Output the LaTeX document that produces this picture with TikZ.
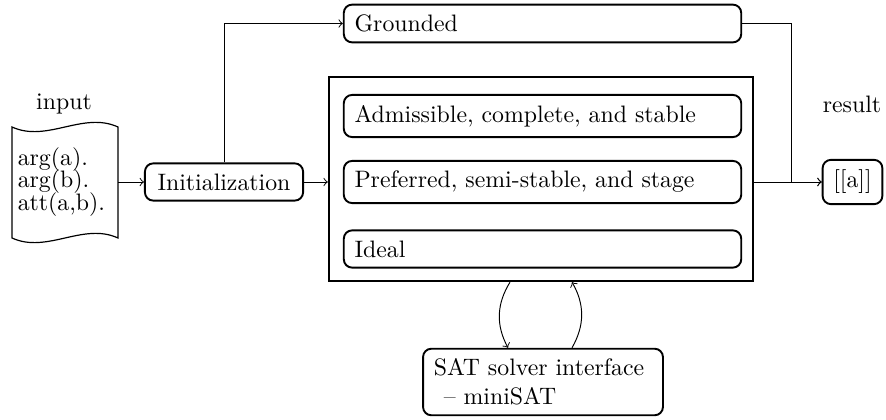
\documentclass[tikz,border=0pt]{standalone}
\usetikzlibrary{calc}
\begin{document}
\begin{tikzpicture}[x=0.4202pt,y=-0.4202pt,
  rbox/.style={draw,thick,rounded corners=3.5pt,inner xsep=4.5pt,inner ysep=4.3pt},
  wbox/.style={rbox,text width=158pt,align=left},
  conn/.style={->,line width=0.4pt},
  lbl/.style={inner sep=0pt}]
\useasboundingbox (0,0) rectangle (886,420);
% input document
\node[minimum width=44.5pt,minimum height=46pt,inner xsep=2.4pt,
      text width=39.7pt,align=left] (doc) at (65,182)
  {arg(a).\\[-2.5pt]arg(b).\\[-2.5pt]att(a,b).};
\draw[line width=0.5pt] (12,238) -- (12,127)
  .. controls (47,143) and (83,111) .. (118,127) -- (118,238)
  .. controls (83,222) and (47,254) .. (12,238) -- cycle;
\node[lbl] (inlbl) at (64,104) {input};
% initialization
\node[rbox,inner xsep=5.3pt] (init) at (224,182) {Initialization};
% grounded
\node[wbox] (gr) at (542.5,23.5) {Grounded};
% big container
\node[draw,line width=1pt,minimum width=178.2pt,minimum height=85.7pt,inner sep=0pt] (big) at (541,179) {};
\node[wbox] (adm) at (542.5,116) {Admissible, complete, and stable};
\node[wbox] (pref) at (542.5,182) {Preferred, semi-stable, and stage};
\node[wbox] (ideal) at (542.5,249) {Ideal};
% result
\node[rbox] (res) at (852.5,182) {[[a]]};
\node[lbl] (reslbl) at (852,104) {result};
% SAT
\node[rbox,text width=91.8pt,align=left] (sat) at (543,382)
  {SAT solver interface\\\hspace*{4.2pt}-- miniSAT};
% connectors
\coordinate (join) at (791,182);
\draw[conn] (doc.east) -- (init.west);
\draw[conn] (init.east) -- (init.east -| big.west);
\draw[conn] (init.north) |- (gr.west);
\draw[conn] (gr.east) -| (join) -- (res.west);
\draw[conn] (res.west -| big.east) -- (res.west);
\draw[conn] ($(big.south)+(-31,0)$) to[bend right=30] ($(sat.north)+(-35,0)$);
\draw[conn] ($(sat.north)+(29,0)$) to[bend right=30] ($(big.south)+(31,0)$);
\end{tikzpicture}
\end{document}
